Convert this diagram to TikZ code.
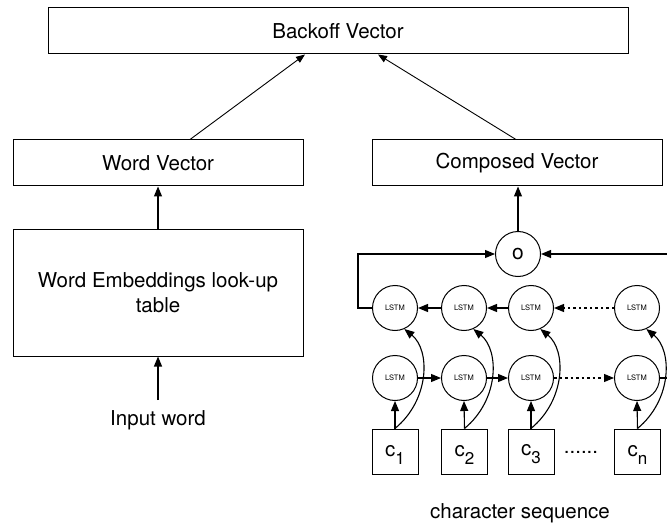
\documentclass[tikz,border=0pt]{standalone}
\usepackage{fontspec}
\setmainfont{TeX Gyre Heros}
\usetikzlibrary{arrows.meta,positioning}
\newcommand\csub[2]{\rule{0pt}{17pt}#1\raisebox{-8pt}{\fontsize{17}{17}\selectfont #2}}
\begin{document}
\begin{tikzpicture}[x=1pt,y=-1pt,
  every node/.style={font=\fontsize{20.5}{24.5}\selectfont},
  box/.style={draw,line width=1pt,inner sep=0pt,align=center},
  cell/.style={draw,circle,line width=1pt,minimum size=45pt,inner sep=0pt,font=\fontsize{7.5}{8}\selectfont},
  opnode/.style={draw,circle,line width=1pt,minimum size=45pt,inner sep=0pt,font=\fontsize{21}{21}\selectfont},
  cbox/.style={draw,line width=1pt,minimum width=46pt,minimum height=45pt,inner sep=0pt},
  arr/.style={line width=1.1pt,-{Triangle[length=10pt,width=8pt]}},
  thinarr/.style={line width=0.9pt,-{Triangle[length=9pt,width=7pt]}},
  dotarr/.style={arr,dash pattern=on 2.5pt off 3pt},
  plain/.style={line width=1.1pt}]
\useasboundingbox (0,0) rectangle (667,524);
% top boxes
\node[box,minimum width=580pt,minimum height=46pt] (bo) at (338,31) {Backoff Vector};
\node[box,minimum width=290pt,minimum height=46pt] (wv) at (158,163) {Word Vector};
\node[box,minimum width=290pt,minimum height=46pt] (cv) at (517,163) {Composed Vector};
\node[box,minimum width=290pt,minimum height=127pt] (emb) at (158,292.5) {Word Embeddings look-up\\table};
\node (inp) at (158,420) {Input word};
\coordinate (inTop) at (158,400);
% LSTM part
\node[opnode] (o) at (518,254) {o};
\node[cell] (t1) at (395,308) {LSTM};
\node[cell] (t2) at (464,308) {LSTM};
\node[cell] (t3) at (531,308) {LSTM};
\node[cell] (tn) at (637,308) {LSTM};
\node[cell] (b1) at (395,378) {LSTM};
\node[cell] (b2) at (464,378) {LSTM};
\node[cell] (b3) at (531,378) {LSTM};
\node[cell] (bn) at (637,378) {LSTM};
\node[cbox] (c1) at (395,451.5) {\csub{c}{1}};
\node[cbox] (c2) at (464.5,451.5) {\csub{c}{2}};
\node[cbox] (c3) at (531,451.5) {\csub{c}{3}};
\node[cbox] (cn) at (637.5,451.5) {\csub{c}{n}};
\node[anchor=base,inner sep=0pt] (dots) at (581,453) {......};
\node (cs) at (520,513) {character sequence};
\coordinate (rEdgeTop) at (668,254);
\coordinate (rEdgeBot) at (668,378);
% connectors
\draw[thinarr] ([xshift=32pt]wv.north) -- ([xshift=-33pt]bo.south);
\draw[thinarr] ([xshift=-1pt]cv.north) -- ([xshift=40pt]bo.south);
\draw[arr] (emb.north) -- (wv.south);
\draw[arr] (inTop) -- (emb.south);
\draw[arr] (o.north) -- (o.north |- cv.south);
\draw[arr] (t1.west) -- ++(-14,0) |- (o.west);
\draw[arr] (rEdgeTop) -- (o.east);
\draw[arr] (t2) -- (t1);
\draw[arr] (t3) -- (t2);
\draw[dotarr] (tn) -- (t3);
\draw[arr] (b1) -- (b2);
\draw[arr] (b2) -- (b3);
\draw[dotarr] (b3) -- (bn);
\draw[plain] (bn.east) -- (rEdgeBot);
\foreach \k in {1,2,3,n}{
  \draw[arr] (c\k.north) -- (b\k.south);
  \draw[arr] (c\k.north) .. controls +(35,-29) and +(26,21) .. (t\k.-66);
}
\end{tikzpicture}
\end{document}
